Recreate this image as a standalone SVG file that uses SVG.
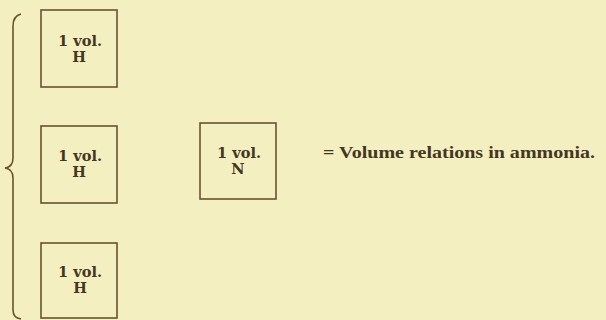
<svg xmlns="http://www.w3.org/2000/svg" width="606" height="320" viewBox="0 0 606 320">
<style>
.bg{fill:#f4efc1}
.box{fill:none;stroke:#6a5233;stroke-width:1.6}
.t{font-family:"DejaVu Serif","Liberation Serif",serif;font-size:14.5px;fill:#45361f;text-anchor:middle;font-weight:bold}
.lbl{font-family:"Liberation Serif",serif;font-size:17px;fill:#45361f;font-weight:bold}
.brace{fill:none;stroke:#6a5233;stroke-width:1.6}
</style>
<rect class="bg" x="0" y="0" width="606" height="320"/>
<g id="connectors">
<path class="brace" d="M21,14 Q13,16 13,26 L13,158 Q13,167 5,168 Q13,169 13,178 L13,310 Q13,318 21,319"/>
</g>
<g id="h1">
<rect class="box" x="41" y="10" width="76" height="77"/>
<text class="t" x="80" y="46" textLength="44" lengthAdjust="spacingAndGlyphs">1 vol.</text>
<text class="t" x="79" y="62">H</text>
</g>
<g id="h2">
<rect class="box" x="41" y="126" width="76" height="77"/>
<text class="t" x="80" y="161" textLength="44" lengthAdjust="spacingAndGlyphs">1 vol.</text>
<text class="t" x="79" y="177">H</text>
</g>
<g id="h3">
<rect class="box" x="41" y="243" width="76" height="75"/>
<text class="t" x="80" y="277" textLength="44" lengthAdjust="spacingAndGlyphs">1 vol.</text>
<text class="t" x="80" y="293">H</text>
</g>
<g id="n">
<rect class="box" x="200" y="123" width="76" height="76"/>
<text class="t" x="239" y="158" textLength="44" lengthAdjust="spacingAndGlyphs">1 vol.</text>
<text class="t" x="238" y="174">N</text>
</g>
<g id="label">
<text class="lbl" x="323" y="158" textLength="272" lengthAdjust="spacingAndGlyphs">= Volume relations in ammonia.</text>
</g>
</svg>
